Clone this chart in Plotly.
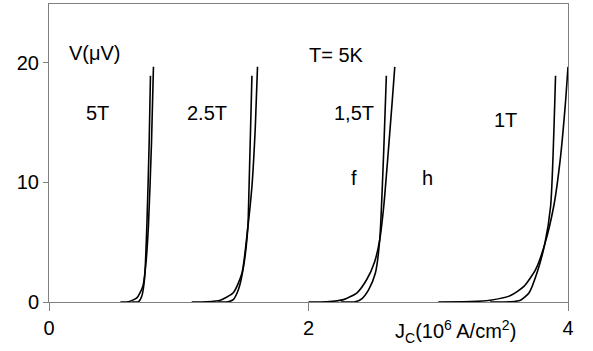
import plotly.graph_objects as go

# ---- data (J in 10^6 A/cm^2, V in microvolts) ----
j_5T_a = [0.55, 0.612, 0.677, 0.723, 0.745, 0.766, 0.79, 0.805]
v_5T_a = [0.0, 0.02, 0.35, 1.3, 3.0, 6.3, 13.3, 19.65]
j_5T_b = [0.64, 0.69, 0.715, 0.736, 0.754, 0.772, 0.782]
v_5T_b = [0.0, 0.02, 0.48, 1.9, 6.3, 13.3, 18.9]

j_25T_a = [1.10, 1.217, 1.32, 1.42, 1.487, 1.533, 1.564, 1.59, 1.607]
v_25T_a = [0.0, 0.02, 0.15, 0.77, 2.4, 6.3, 9.65, 14.6, 19.65]
j_25T_b = [1.30, 1.38, 1.42, 1.46, 1.50, 1.533, 1.538, 1.564]
v_25T_b = [0.0, 0.02, 0.2, 1.04, 3.0, 6.3, 8.0, 18.9]

j_15T_a = [2.00, 2.14, 2.27, 2.374, 2.45, 2.508, 2.549, 2.58, 2.61, 2.644, 2.665]
v_15T_a = [0.0, 0.02, 0.2, 0.77, 1.9, 3.3, 5.2, 8.0, 11.9, 16.6, 19.65]
j_15T_b = [2.25, 2.36, 2.41, 2.464, 2.515, 2.549, 2.58, 2.60]
v_15T_b = [0.0, 0.02, 0.27, 1.04, 2.4, 5.2, 12.7, 18.9]

j_1T_a = [3.00, 3.25, 3.40, 3.557, 3.66, 3.75, 3.82, 3.89, 3.94, 3.98, 4.00]
v_1T_a = [0.0, 0.03, 0.15, 0.54, 1.3, 2.7, 4.8, 8.0, 11.9, 16.6, 19.65]
j_1T_b = [3.40, 3.56, 3.634, 3.70, 3.76, 3.82, 3.866, 3.904]
v_1T_b = [0.0, 0.02, 0.15, 0.77, 2.4, 4.8, 8.0, 18.9]

x_ticks = [0, 2, 4]
y_ticks = [0, 10, 20]

labels = ["V(μV)", "5T", "2.5T", "1,5T", "1T", "T= 5K", "f", "h"]
label_x = [0.355, 0.37, 1.218, 2.352, 3.517, 2.213, 2.352, 2.915]
label_y = [20.8, 15.8, 15.8, 15.8, 15.2, 20.6, 10.4, 10.4]
x_title = "J<sub>C</sub>(10<sup>6</sup> A/cm<sup>2</sup>)"

FONT = "Arial, Liberation Sans, sans-serif"

fig = go.Figure()
curves = [
    (j_5T_a, v_5T_a), (j_5T_b, v_5T_b),
    (j_25T_a, v_25T_a), (j_25T_b, v_25T_b),
    (j_15T_a, v_15T_a), (j_15T_b, v_15T_b),
    (j_1T_a, v_1T_a), (j_1T_b, v_1T_b),
]
for jx, vy in curves:
    fig.add_trace(go.Scatter(
        x=jx, y=vy, mode="lines",
        line=dict(color="black", width=1.6, shape="spline", smoothing=0.6),
        showlegend=False, hoverinfo="skip",
    ))

annotations = []
for t, ax_, ay_ in zip(labels, label_x, label_y):
    annotations.append(dict(x=ax_, y=ay_, xref="x", yref="y", text=t,
                            xanchor="center", yanchor="middle",
                            showarrow=False, font=dict(family=FONT, size=20, color="black")))
annotations.append(dict(x=0.783, y=-0.099, xref="paper", yref="paper",
                        xanchor="center", yanchor="middle",
                        text=x_title, showarrow=False,
                        font=dict(family=FONT, size=20, color="black")))

fig.update_layout(
    width=593, height=351,
    margin=dict(l=49, r=25, t=4, b=49),
    paper_bgcolor="white", plot_bgcolor="white",
    font=dict(family=FONT, color="black"),
    annotations=annotations,
    xaxis=dict(range=[0, 4], tickvals=x_ticks, ticktext=[str(v) for v in x_ticks],
               showgrid=False, zeroline=False, showline=True, mirror=True,
               linecolor="#808080", linewidth=1, ticks="outside", ticklen=8,
               tickcolor="#808080", tickfont=dict(size=20, family=FONT, color="black")),
    yaxis=dict(range=[0, 24.9], tickvals=y_ticks, ticktext=[str(v) for v in y_ticks],
               showgrid=False, zeroline=False, showline=True, mirror=True,
               linecolor="#808080", linewidth=1, ticks="outside", ticklen=5,
               tickcolor="#808080", tickfont=dict(size=20, family=FONT, color="black")),
)

fig.write_html("out.html", config={"displayModeBar": False},
               post_script="document.body.style.margin='0';")
